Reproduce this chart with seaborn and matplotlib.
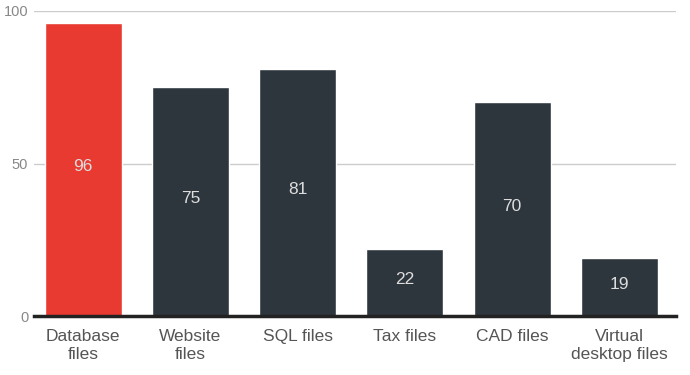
import pandas as pd
import seaborn as sns
import matplotlib.pyplot as plt

categories = ["Database\nfiles", "Website\nfiles", "SQL files", "Tax files", "CAD files", "Virtual\ndesktop files"]
values = [96, 75, 81, 22, 70, 19]
bar_colors = ["#E83A30", "#2E363D", "#2E363D", "#2E363D", "#2E363D", "#2E363D"]

df = pd.DataFrame({"category": categories, "value": values})

sns.set_theme(style="white")
plt.rcParams['font.family'] = ['Liberation Sans', 'DejaVu Sans']

fig = plt.figure(figsize=(6.9, 3.75), dpi=100)
ax = fig.add_axes([0.049, 0.157, 0.931, 0.814])

sns.barplot(data=df, x="category", y="value", hue="category", palette=bar_colors,
            legend=False, width=0.72, saturation=1, ax=ax, zorder=2)

ax.set_ylim(0, 100)
ax.set_xlim(-0.46, 5.53)
ax.set_yticks([0, 50, 100])
ax.grid(axis='y', color='#cccccc', linewidth=1, zorder=0)
ax.set_axisbelow(True)
for s in ['top', 'right', 'left']:
    ax.spines[s].set_visible(False)
ax.spines['bottom'].set_color('#222222')
ax.spines['bottom'].set_linewidth(2.5)
ax.spines['bottom'].set_zorder(3)
ax.tick_params(axis='y', length=0, labelsize=10.5, labelcolor='#888888', pad=4)
ax.tick_params(axis='x', length=0, labelsize=12.5, labelcolor='#555555', pad=9)
for lbl in ax.get_xticklabels():
    lbl.set_linespacing(1.25)
ax.set_xlabel('')
ax.set_ylabel('')

# value labels in the middle of each bar
for i, v in enumerate(values):
    ax.text(i, v / 2 + 1, str(v), ha='center', va='center', color='#dddddd', fontsize=12.5)

fig.savefig("out.png", dpi=100)
